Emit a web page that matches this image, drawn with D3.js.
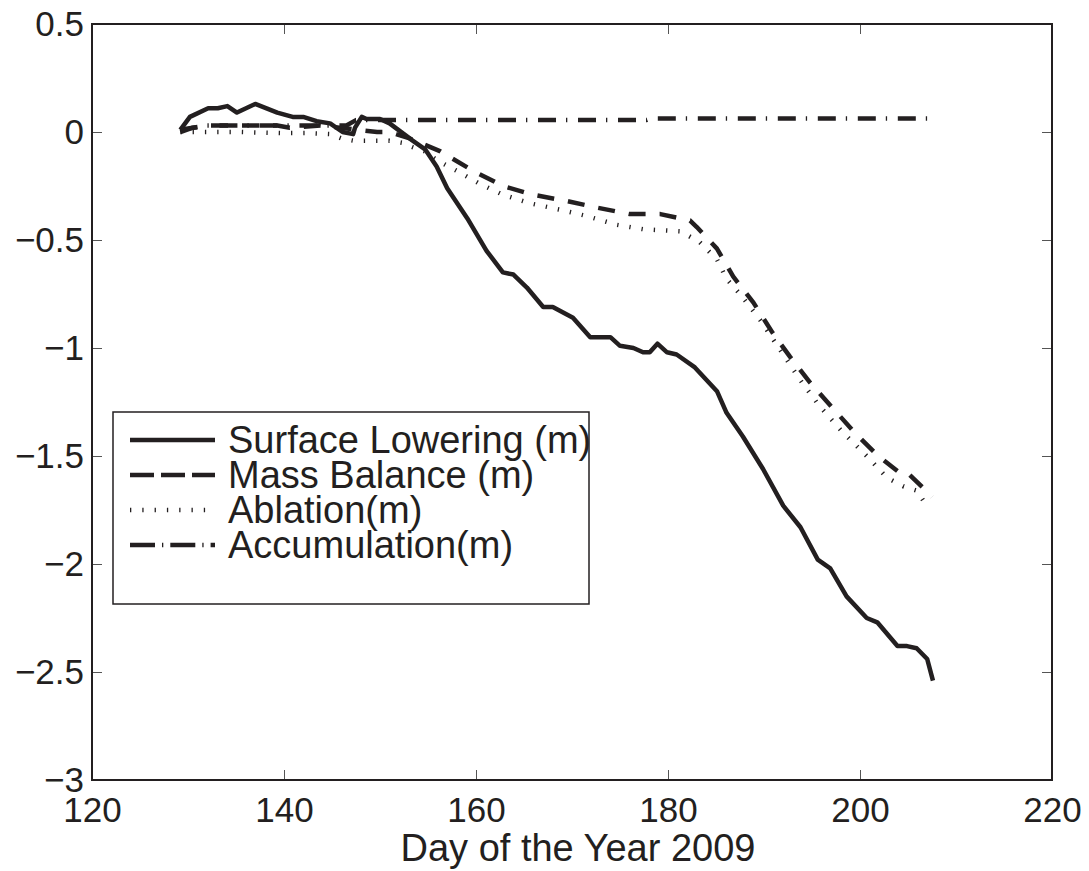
<!DOCTYPE html>
<html lang="en">
<head>
<meta charset="UTF-8">
<title>Surface lowering and mass balance 2009</title>
<script src="https://cdnjs.cloudflare.com/ajax/libs/d3/7.8.5/d3.min.js"></script>
<style>
  * { margin: 0; padding: 0; }
  body { background: #fff; }
  svg { display: block; font-family: "Liberation Sans", Arial, Helvetica, sans-serif; }
  .tick line { stroke: #555; stroke-width: 1; }
  .tick text { fill: #231f20; font-size: 35px; }
  .series { fill: none; stroke: #231f20; stroke-linejoin: round; }
</style>
</head>
<body>
<div id="chart"></div>
<script>
// ---- data ----
var xTicks = [120, 140, 160, 180, 200, 220];
var yTicks = [0.5, 0, -0.5, -1, -1.5, -2, -2.5, -3];
var yTickLabels = ["0.5", "0", "\u22120.5", "\u22121", "\u22121.5", "\u22122", "\u22122.5", "\u22123"];

var surfDays = [129.2, 130.2, 132.1, 133.1, 134.1, 135.1, 137.0, 139.3, 140.9, 142.0, 143.4, 144.8, 146.1, 147.2, 147.4, 148.1, 148.6, 150.0, 151.0, 153.4, 154.7, 155.9, 157.0, 159.1, 161.1, 162.8, 163.9, 165.3, 167.0, 168.0, 170.1, 171.9, 174.0, 175.0, 176.4, 177.4, 178.1, 178.9, 179.9, 180.9, 182.8, 185.1, 186.1, 187.8, 189.9, 192.0, 193.8, 195.6, 196.9, 198.6, 200.7, 201.8, 203.9, 204.9, 205.9, 207.0, 207.6];
var surfVals = [0.01, 0.07, 0.11, 0.11, 0.12, 0.09, 0.13, 0.09, 0.07, 0.07, 0.05, 0.04, 0.0, -0.01, 0.02, 0.07, 0.06, 0.06, 0.04, -0.04, -0.08, -0.16, -0.26, -0.40, -0.55, -0.65, -0.66, -0.72, -0.81, -0.81, -0.86, -0.95, -0.95, -0.99, -1.0, -1.02, -1.02, -0.98, -1.02, -1.03, -1.09, -1.20, -1.30, -1.41, -1.56, -1.73, -1.83, -1.98, -2.02, -2.15, -2.25, -2.27, -2.38, -2.38, -2.39, -2.44, -2.54];

var massDays = [129.2, 130.5, 132.3, 134.7, 137.2, 139.3, 140.6, 143.8, 145.8, 149.7, 151.0, 153.1, 154.2, 156.3, 159.7, 162.8, 165.9, 169.5, 172.6, 176.0, 179.2, 182.3, 183.0, 185.1, 186.8, 188.9, 190.9, 192.7, 194.8, 197.2, 199.4, 201.9, 204.2, 205.0, 207.1, 207.5];
var massVals = [0.01, 0.02, 0.03, 0.03, 0.03, 0.03, 0.02, 0.03, 0.02, 0.0, 0.0, -0.03, -0.05, -0.09, -0.18, -0.25, -0.29, -0.32, -0.35, -0.38, -0.38, -0.41, -0.44, -0.54, -0.67, -0.79, -0.93, -1.04, -1.16, -1.28, -1.39, -1.50, -1.58, -1.58, -1.67, -1.69];

var ablDays = [129.2, 131.3, 135.4, 139.6, 142.2, 144.8, 146.0, 147.2, 151.0, 152.3, 153.4, 154.7, 155.9, 158.0, 160.4, 162.8, 165.6, 168.8, 171.6, 174.7, 177.4, 181.3, 183.3, 185.1, 186.1, 187.5, 189.6, 191.7, 193.8, 195.8, 198.2, 200.7, 202.8, 204.5, 205.9, 207.1];
var ablVals = [0.0, 0.0, 0.0, -0.005, -0.005, -0.01, -0.03, -0.04, -0.04, -0.05, -0.07, -0.09, -0.13, -0.18, -0.24, -0.29, -0.33, -0.36, -0.39, -0.43, -0.45, -0.46, -0.51, -0.59, -0.68, -0.75, -0.87, -1.01, -1.15, -1.27, -1.39, -1.50, -1.60, -1.64, -1.66, -1.74];

var accDays = [129.2, 130.5, 132.0, 140.0, 145.0, 146.5, 147.5, 160.0, 177.8, 178.2, 207.6];
var accVals = [0.0, 0.02, 0.03, 0.03, 0.03, 0.03, 0.055, 0.055, 0.056, 0.062, 0.062];

var seriesNames = ["Surface Lowering (m)", "Mass Balance (m)", "Ablation(m)", "Accumulation(m)"];
var xLabel = "Day of the Year 2009";

// ---- layout ----
var width = 1089, height = 871;
var plot = {left: 92, top: 24, right: 1052, bottom: 780};

var svg = d3.select("#chart").append("svg")
  .attr("width", width).attr("height", height);

svg.append("rect").attr("width", width).attr("height", height).attr("fill", "#fff");

var x = d3.scaleLinear().domain([120, 220]).range([plot.left, plot.right]);
var y = d3.scaleLinear().domain([-3, 0.5]).range([plot.bottom, plot.top]);

// axes: ticks pointing inward on all four sides
svg.append("g")
  .attr("transform", "translate(0," + plot.bottom + ")")
  .call(d3.axisBottom(x).tickValues(xTicks).tickSizeInner(-10).tickSizeOuter(0).tickPadding(17))
  .call(function(g){ g.select(".domain").remove(); });

svg.append("g")
  .attr("transform", "translate(0," + plot.top + ")")
  .call(d3.axisTop(x).tickValues(xTicks).tickSizeInner(-10).tickSizeOuter(0).tickFormat(""))
  .call(function(g){ g.select(".domain").remove(); });

svg.append("g")
  .attr("transform", "translate(" + plot.left + ",0)")
  .call(d3.axisLeft(y).tickValues(yTicks).tickSizeInner(-10).tickSizeOuter(0).tickPadding(8)
    .tickFormat(function(d, i){ return yTickLabels[i]; }))
  .call(function(g){ g.select(".domain").remove(); });

svg.append("g")
  .attr("transform", "translate(" + plot.right + ",0)")
  .call(d3.axisRight(y).tickValues(yTicks).tickSizeInner(-10).tickSizeOuter(0).tickFormat(""))
  .call(function(g){ g.select(".domain").remove(); });

// hide tick marks that would sit on the frame corners
svg.selectAll(".tick").filter(function(d){ return d === 120 || d === 220 || d === 0.5 || d === -3; })
  .select("line").remove();

svg.append("rect")
  .attr("x", plot.left).attr("y", plot.top)
  .attr("width", plot.right - plot.left).attr("height", plot.bottom - plot.top)
  .attr("fill", "none").attr("stroke", "#231f20").attr("stroke-width", 2);

// x label
svg.append("text")
  .attr("x", 578).attr("y", 861)
  .attr("text-anchor", "middle")
  .attr("font-size", 38).attr("fill", "#231f20")
  .text(xLabel);

// ---- series ----
function toPts(days, vals){ return days.map(function(d, i){ return [d, vals[i]]; }); }

var line = d3.line()
  .x(function(d){ return x(d[0]); })
  .y(function(d){ return y(d[1]); });

var styles = [
  {w: 4.5, dash: null, legendDash: null},
  {w: 4.5, dash: "17,14", legendDash: "24,7"},
  {w: 4.5, dash: "1.3,11", legendDash: "1.3,11"},
  {w: 4.5, dash: "18,10,1.3,10.7", legendDash: "25,7,1.3,7"}
];

var allSeries = [
  toPts(surfDays, surfVals),
  toPts(massDays, massVals),
  toPts(ablDays, ablVals),
  toPts(accDays, accVals)
];

// draw in an order so the solid line sits on top
[3, 2, 1, 0].forEach(function(i){
  svg.append("path")
    .attr("class", "series")
    .attr("d", line(allSeries[i]))
    .attr("stroke-width", styles[i].w)
    .attr("stroke-dasharray", styles[i].dash);
});

// ---- legend ----
var legend = svg.append("g");
legend.append("rect")
  .attr("x", 113).attr("y", 412).attr("width", 476).attr("height", 192)
  .attr("fill", "#fff").attr("stroke", "#231f20").attr("stroke-width", 1.5);

seriesNames.forEach(function(name, i){
  var ly = 440 + i * 35;
  legend.append("line")
    .attr("x1", 130).attr("x2", 215).attr("y1", ly).attr("y2", ly)
    .attr("stroke", "#231f20")
    .attr("stroke-width", styles[i].w)
    .attr("stroke-dasharray", styles[i].legendDash);
  legend.append("text")
    .attr("x", 228).attr("y", ly + 13)
    .attr("font-size", 38).attr("fill", "#231f20")
    .text(name);
});
</script>
</body>
</html>
